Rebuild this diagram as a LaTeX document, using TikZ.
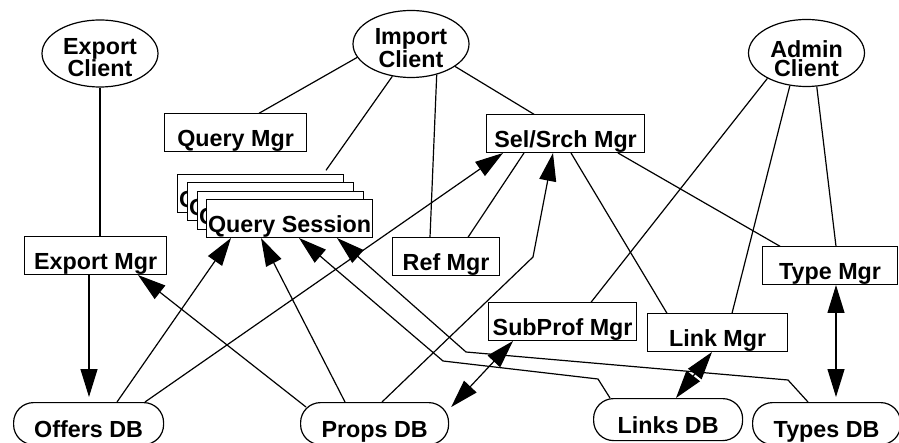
\documentclass[tikz,border=0pt]{standalone}
\usepackage{fontspec}
\setmainfont{Liberation Sans}
\usetikzlibrary{arrows.meta,calc,shapes.geometric}
\tikzset{
  mgr/.style={draw,fill=white,rectangle,inner sep=0pt,text height=33pt,text depth=4.5pt},
  client/.style={draw,ellipse,inner sep=0pt,minimum width=116pt,minimum height=67pt,align=center,text height=47pt,text depth=0pt},
  store/.style={draw,rounded corners=20pt,inner sep=0pt,text height=34.5pt,text depth=7.5pt},
  oneway/.style={-{Triangle[length=28pt,width=17pt]}},
  twoway/.style={{Triangle[length=28pt,width=17pt]}-{Triangle[length=28pt,width=17pt]}}
}

\begin{document}
\begin{tikzpicture}[x=1pt,y=-1pt,line width=1.2pt,font=\bfseries\fontsize{23.3}{18.5}\selectfont]
    \useasboundingbox (0,0) rectangle (899,443);
    % clients
    \node[client] (ec) at (100,53.5) {Export\\Client};
    \node[client] (ic) at (411,44) {Import\\Client};
    \node[client] (ac) at (806.5,53) {Admin\\Client};
    % managers
    \node[mgr,minimum width=142pt,anchor=south west] (qm) at (164,152) {Query Mgr};
    \node[mgr,minimum width=158pt,anchor=south west] (ss) at (486,153) {Sel/Srch Mgr};
    \node[mgr,minimum width=142pt,anchor=south west] (em) at (24,275) {Export Mgr};
    \node[mgr,minimum width=107pt,anchor=south west] (rm) at (392,276) {Ref Mgr};
    \node[mgr,minimum width=135pt,anchor=south west] (tm) at (762,285) {Type Mgr};
    \node[mgr,minimum width=148pt,anchor=south west] (sp) at (488,341) {SubProf Mgr};
    \node[mgr,minimum width=140pt,anchor=south west] (lm) at (647,352) {Link Mgr};
    % stacked sessions
    \node[mgr,minimum width=166pt,anchor=south west] (qs1) at (177,213) {Query Session};
    \node[mgr,minimum width=166pt,anchor=south west] (qs2) at (187,221) {Query Session};
    \node[mgr,minimum width=166pt,anchor=south west] (qs3) at (197,230) {Query Session};
    \node[mgr,minimum width=166pt,anchor=south west] (qs4) at (206,238) {Query Session};
    % databases
    \node[store,minimum width=150pt,anchor=north west] (od) at (13,402) {Offers DB};
    \node[store,minimum width=148pt,anchor=north west] (pd) at (300,402) {Props DB};
    \node[store,minimum width=149pt,anchor=north west] (ld) at (593,398) {Links DB};
    \node[store,minimum width=148pt,anchor=north west] (td) at (752,402) {Types DB};

    \draw (ec.south) -- (ec.south |- em.north);
    \draw[oneway] ([xshift=65pt]em.south west) -- ([xshift=76pt,yshift=5pt]od.north west);
    \draw (ic.194) -- ([xshift=95pt]qm.north west);
    \draw (ic.240) -- ([xshift=149pt,yshift=4pt]qs1.north west);
    \draw (ic.-50) -- ([xshift=38pt]rm.north west);
    \draw (ic.-27) -- ([xshift=48pt]ss.north west);
    \draw (ac.213) -- ([xshift=103pt]sp.north west);
    \draw (ac.243) -- ([xshift=85pt]lm.north west);
    \draw (ac.-73) -- ([xshift=74pt]tm.north west);
    \draw ([xshift=132pt]ss.south west) -- ([xshift=18pt]tm.north west);
    \draw ([xshift=38pt]ss.south west) -- ([xshift=76pt]rm.north west);
    \draw ([xshift=85pt]ss.south west) -- ([xshift=20pt]lm.north west);
    % from the databases
    \draw[oneway] ([xshift=132pt]od.north west) -- ([xshift=17pt]ss.south west);
    \draw[oneway] ([xshift=104pt]od.north west) -- ([xshift=25pt]qs4.south west);
    \draw[oneway] ([xshift=6pt,yshift=-5pt]pd.north west) -- ([xshift=114pt]em.south west);
    \draw[oneway] ([xshift=45pt]pd.north west) -- ([xshift=55pt]qs4.south west);
    \draw[oneway] ([xshift=82pt]pd.north west) -- (533,257) -- ([xshift=67pt]ss.south west);
    \draw[twoway] ([xshift=2pt,yshift=-5pt]pd.north east) -- ([xshift=25pt]sp.south west);
    \draw[oneway] ([xshift=17pt]ld.north west) -- (598,379) -- (443,361) -- ([xshift=93pt]qs4.south west);
    \draw[twoway] ([xshift=83pt]ld.north west) -- ([xshift=65pt]lm.south west);
    \draw[oneway] ([xshift=56pt]td.north west) -- (788,380) -- (466,352) -- ([xshift=131pt]qs4.south west);
    \draw[twoway] ([xshift=74pt]tm.south west) -- ([xshift=84pt,yshift=5pt]td.north west);
\end{tikzpicture}
\end{document}
